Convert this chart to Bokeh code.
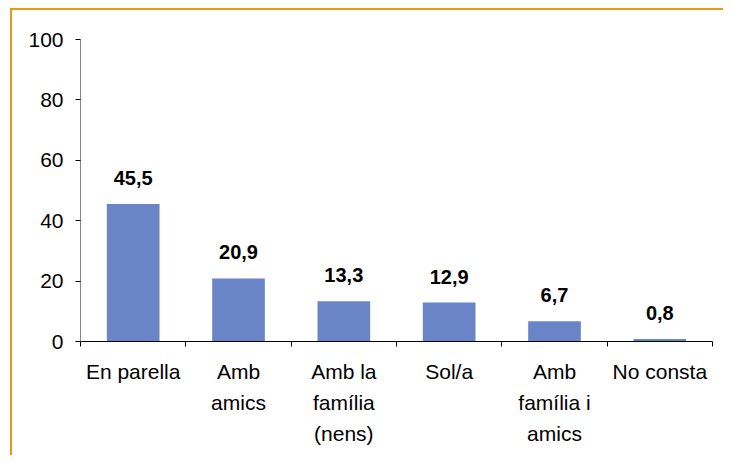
from bokeh.plotting import figure
from bokeh.models import ColumnDataSource, FixedTicker, LabelSet
from bokeh.core.properties import value
from bokeh.embed import file_html
from bokeh.resources import INLINE

categories = ["En parella", "Amb\namics", "Amb la\nfamília\n(nens)", "Sol/a",
              "Amb\nfamília i\namics", "No consta"]
values = [45.5, 20.9, 13.3, 12.9, 6.7, 0.8]
y_ticks = [0, 20, 40, 60, 80, 100]

xs = [i + 0.5 for i in range(len(categories))]
labels = [f"{v:.1f}".replace(".", ",") for v in values]
src = ColumnDataSource(dict(x=xs, top=values, label=labels))

FONT = "Arial"

p = figure(width=713, height=447, output_backend="svg", toolbar_location=None,
           x_range=(0, len(categories)), y_range=(0, 100),
           min_border_left=68, min_border_right=13, min_border_top=29,
           min_border_bottom=116)
p.styles = {"border-left": "2px solid #E39B16", "border-top": "2px solid #E39B16",
            "margin-left": "10px", "margin-top": "8px"}
p.outline_line_color = None
p.xgrid.visible = False
p.ygrid.visible = False

p.vbar(x="x", top="top", width=0.5, source=src, color="#6A84C8", line_color=None)

p.add_layout(LabelSet(x="x", y="top", text="label", source=src, y_offset=19,
                      text_align="center", text_baseline="alphabetic",
                      text_font=value(FONT), text_font_style="bold",
                      text_font_size="20px", text_color="black"))

ya = p.yaxis[0]
ya.ticker = FixedTicker(ticks=y_ticks, minor_ticks=[])
ya.axis_line_color = "#868686"
ya.major_tick_line_color = "black"
ya.major_tick_out = 5
ya.major_tick_in = 0
ya.minor_tick_line_color = None
ya.major_label_text_font = FONT
ya.major_label_text_font_size = "21px"
ya.major_label_text_color = "black"
ya.major_label_standoff = 12

xa = p.xaxis[0]
xa.ticker = FixedTicker(ticks=xs, minor_ticks=list(range(len(categories) + 1)))
xa.major_label_overrides = {x: c for x, c in zip(xs, categories)}
xa.axis_line_color = "black"
xa.major_tick_line_color = None
xa.major_tick_out = 0
xa.major_tick_in = 0
xa.minor_tick_line_color = "black"
xa.minor_tick_out = 5
xa.minor_tick_in = 0
xa.major_label_text_font = FONT
xa.major_label_text_font_size = "21px"
xa.major_label_text_color = "black"
xa.major_label_text_line_height = 1.36
xa.major_label_standoff = 13

open("out.html", "w").write(file_html(p, INLINE))
